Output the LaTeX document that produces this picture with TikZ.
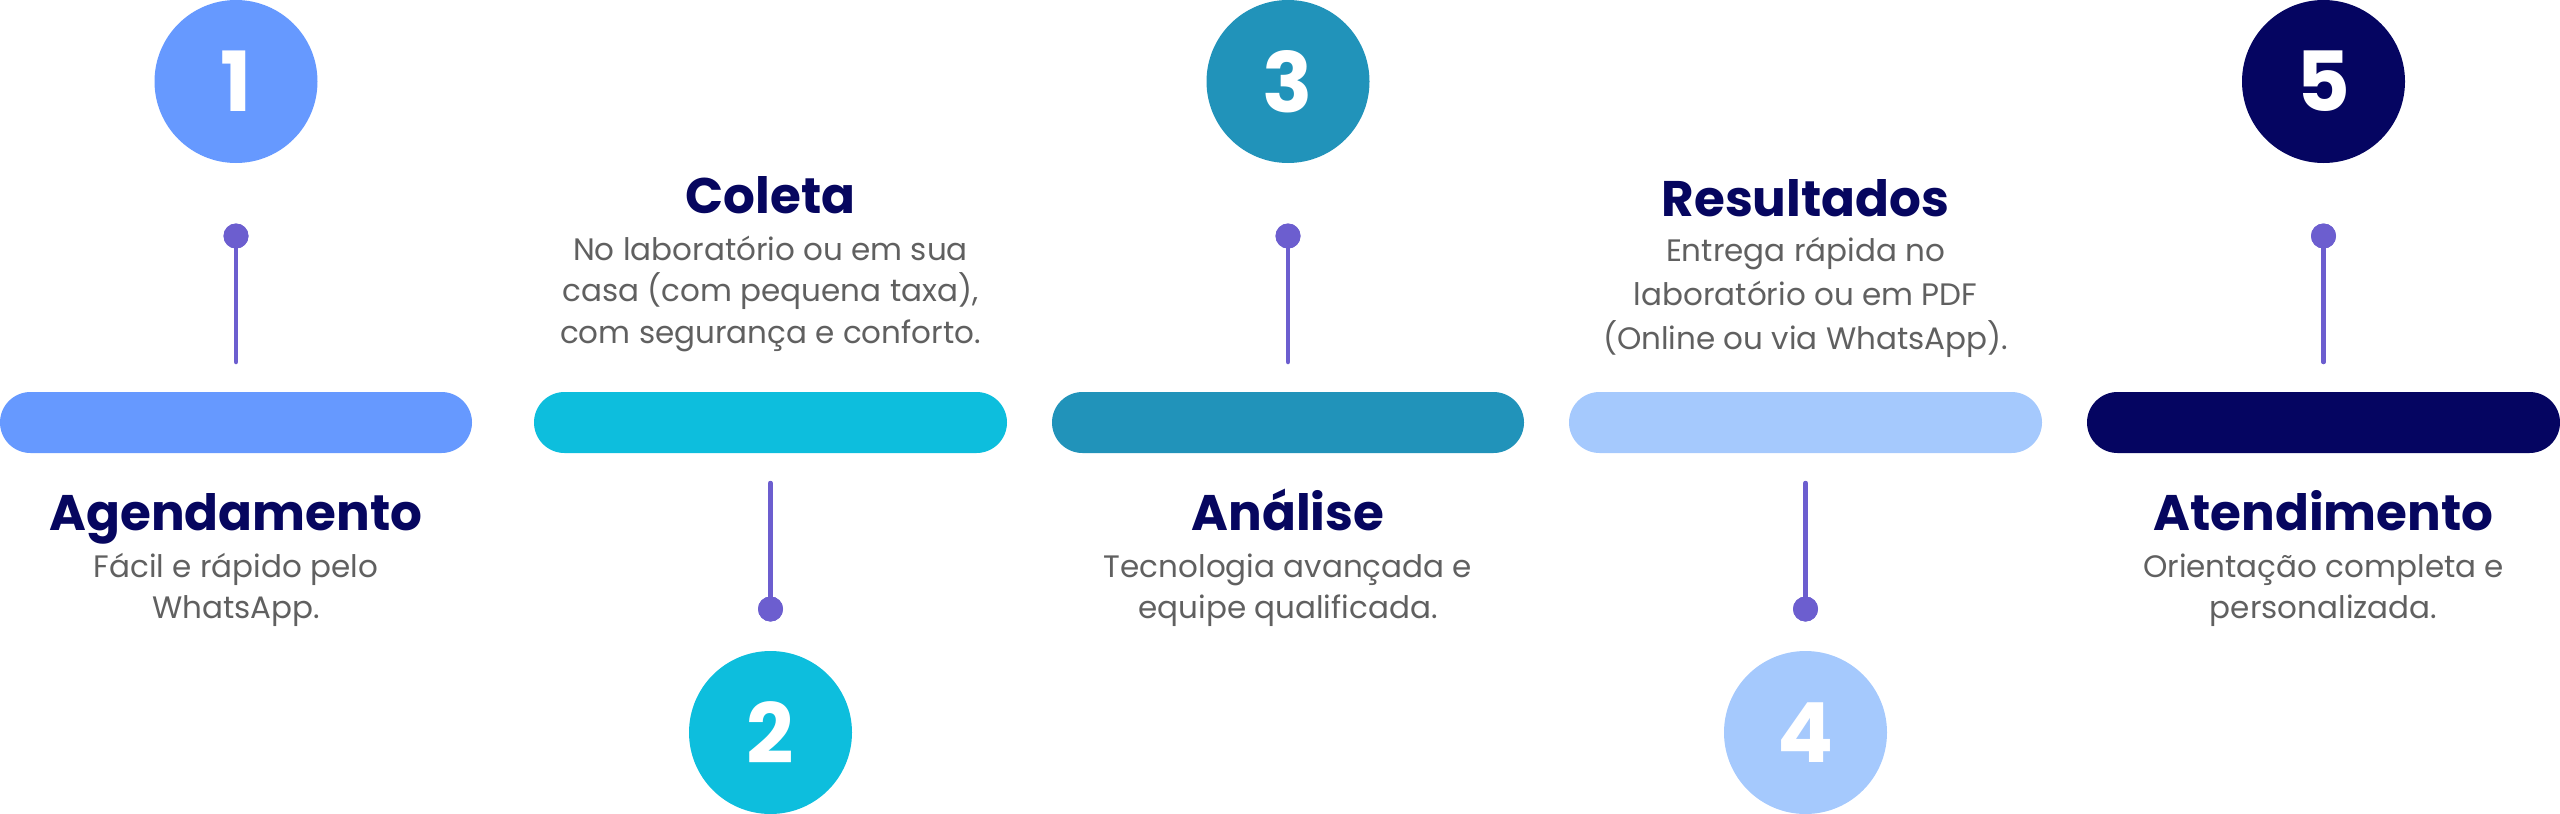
\documentclass[tikz,border=0pt]{standalone}
\usepackage{fontspec}
\setmainfont{Poppins}
\definecolor{cA}{HTML}{6699FF}
\definecolor{cB}{HTML}{0DBEDD}
\definecolor{cC}{HTML}{2193BA}
\definecolor{cD}{HTML}{A5C9FD}
\definecolor{cE}{HTML}{050561}
\definecolor{ttlcol}{HTML}{06065F}
\definecolor{bodycol}{HTML}{606060}
\definecolor{pincol}{HTML}{6C5ECF}
\tikzset{
  numcirc/.style={circle, minimum size=163pt, inner sep=0pt, text=white,
    font=\fontsize{83}{83}\selectfont\bfseries},
  barbox/.style={rectangle, rounded corners=30.5pt, minimum width=473pt,
    minimum height=61pt, inner sep=0pt},
  pindot/.style={circle, fill=pincol, minimum size=25pt, inner sep=0pt},
  pinline/.style={draw=pincol, line width=4.5pt, line cap=round},
  ttl/.style={anchor=base, text=ttlcol, inner sep=0pt,
    font=\fontsize{50}{50}\selectfont\bfseries},
  bodytxt/.style={anchor=base, text=bodycol, inner sep=0pt,
    font=\fontsize{31}{31}\selectfont},
}
\begin{document}
\begin{tikzpicture}[x=1pt,y=-1pt]
\useasboundingbox (0,0) rectangle (2560,814);
% circles
\node[numcirc, fill=cA] (c1) at (236,81.5) {1};
\node[numcirc, fill=cB] (c2) at (770.5,732.5) {2};
\node[numcirc, fill=cC] (c3) at (1288,81.5) {3};
\node[numcirc, fill=cD] (c4) at (1805.5,732.5) {4};
\node[numcirc, fill=cE] (c5) at (2323.5,81.5) {5};
% bars
\node[barbox, fill=cA, minimum width=472pt] (b1) at (236,422.5) {};
\node[barbox, fill=cB] (b2) at (770.5,422.5) {};
\node[barbox, fill=cC, minimum width=472pt] (b3) at (1288,422.5) {};
\node[barbox, fill=cD] (b4) at (1805.5,422.5) {};
\node[barbox, fill=cE] (b5) at (2323.5,422.5) {};
% pins
\coordinate (e1) at (236,362);
\coordinate (e2) at (770.5,483);
\coordinate (e3) at (1288,362);
\coordinate (e4) at (1805.5,483);
\coordinate (e5) at (2323.5,362);
\node[pindot] (d1) at (236,236) {};
\node[pindot] (d2) at (770.5,609) {};
\node[pindot] (d3) at (1288,236) {};
\node[pindot] (d4) at (1805.5,609) {};
\node[pindot] (d5) at (2323.5,236) {};
\draw[pinline] (d1.center) -- (e1);
\draw[pinline] (d2.center) -- (e2);
\draw[pinline] (d3.center) -- (e3);
\draw[pinline] (d4.center) -- (e4);
\draw[pinline] (d5.center) -- (e5);
\node[pindot] at (d1) {};
\node[pindot] at (d2) {};
\node[pindot] at (d3) {};
\node[pindot] at (d4) {};
\node[pindot] at (d5) {};
% texts 1
\node[ttl] (t1) at (236,530) {Agendamento};
\node[bodytxt] (t1a) at (236,577) {Fácil e rápido pelo};
\node[bodytxt] (t1b) at (236,618) {WhatsApp.};
% texts 2
\node[ttl] (t2) at (770.5,213) {Coleta};
\node[bodytxt] (t2a) at (770.5,260) {No laboratório ou em sua};
\node[bodytxt] (t2b) at (770.5,301.5) {casa (com pequena taxa),};
\node[bodytxt] (t2c) at (770.5,343) {com segurança e conforto.};
% texts 3
\node[ttl] (t3) at (1288,530) {Análise};
\node[bodytxt] (t3a) at (1288,577) {Tecnologia avançada e};
\node[bodytxt] (t3b) at (1288,618) {equipe qualificada.};
% texts 4
\node[ttl] (t4) at (1805.5,216) {Resultados};
\node[bodytxt] (t4a) at (1805.5,261) {Entrega rápida no};
\node[bodytxt] (t4b) at (1805.5,305) {laboratório ou em PDF};
\node[bodytxt] (t4c) at (1805.5,349) {(Online ou via WhatsApp).};
% texts 5
\node[ttl] (t5) at (2323.5,530) {Atendimento};
\node[bodytxt] (t5a) at (2323.5,577) {Orientação completa e};
\node[bodytxt] (t5b) at (2323.5,618) {personalizada.};
\end{tikzpicture}
\end{document}
